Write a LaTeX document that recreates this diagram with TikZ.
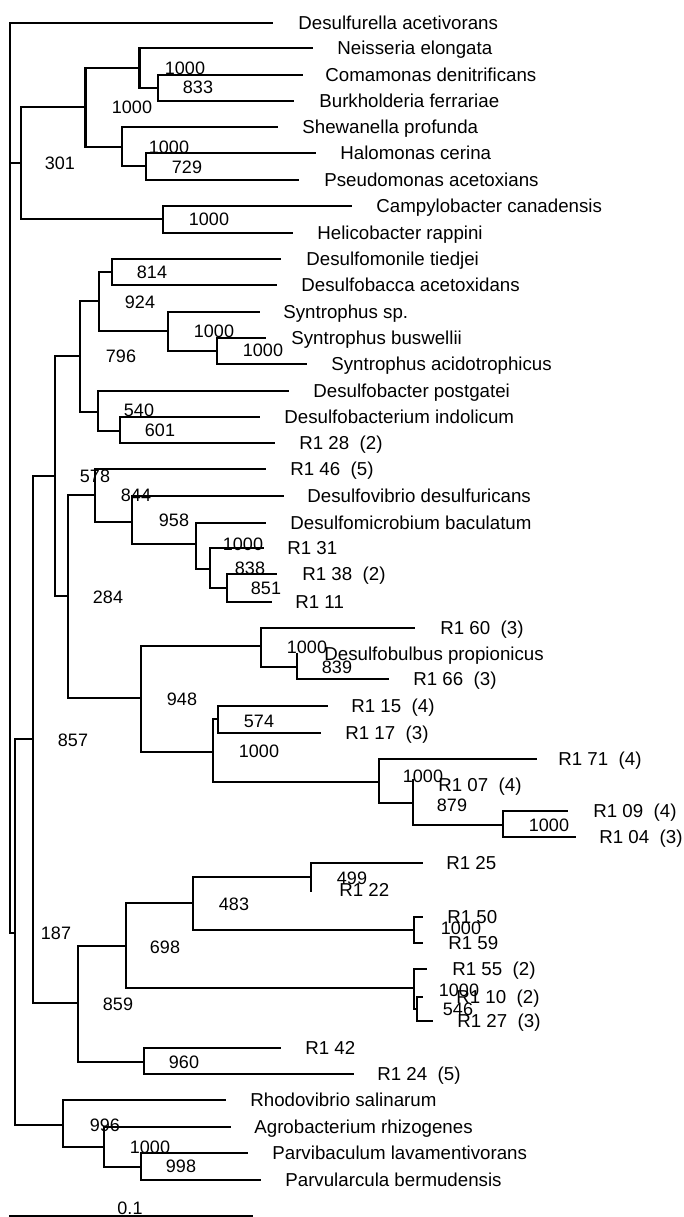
\documentclass[tikz,border=0pt]{standalone}
\usepackage{fontspec}
\setmainfont{Liberation Sans}
\begin{document}
\begin{tikzpicture}[x=0.5pt,y=-0.5pt,
  br/.style={line width=1.05pt,line cap=rect},
  thinbr/.style={line width=0.6pt,line cap=rect},
  leaflbl/.style={anchor=base west,inner sep=0pt,yshift=-3.2pt,font=\fontsize{9.35}{10}\selectfont},
  boot/.style={anchor=base,inner sep=0pt,yshift=-3.15pt,font=\fontsize{9}{10}\selectfont}]
\useasboundingbox (0,0) rectangle (684,1217);
% ---------- branches ----------
\draw[br] (272,22.7) -| (10,933) -- (15,933);
\draw[br] (10,163) -- (20.6,163);
\draw[br] (85.5,107) -| (20.6,219) -- (163,219);
\draw[br] (139.5,68) -| (85.5,147) -- (122,147);
\draw[br] (312,48) -| (139.5,88) -- (158,88);
\draw[br] (302,75) -| (158,101) -- (293,101);
\draw[br] (277,127) -| (122,166) -- (146,166);
\draw[br] (315,153) -| (146,180) -- (298,180);
\draw[br] (351,206) -| (163,233) -- (292,233);
% lower part
\draw[br] (33,739) -| (15,1125) -- (63,1125);
\draw[br] (55,476) -| (33,1003) -- (78,1003);
\draw[thinbr] (80,356) -| (55,596) -- (68,596);
\draw[br] (99,301) -| (80,412) -- (98,412);
\draw[br] (112,272) -| (99,331) -- (168,331);
\draw[br] (280,259) -| (112,285) -- (276,285);
\draw[br] (259,312) -| (168,351) -- (217,351);
\draw[br] (265,338) -| (217,364) -- (306,364);
\draw[br] (288,391) -| (98,431) -- (120,431);
\draw[br] (259,417) -| (120,443) -- (274,443);
\draw[thinbr] (95,495) -| (68,698) -- (141,698);
\draw[br] (265,469) -| (95,522) -- (132,522);
\draw[br] (283,496) -| (132,544) -- (196,544);
\draw[br] (265,523) -| (196,569) -- (210,569);
\draw[br] (263,548) -| (210,588) -- (227,588);
\draw[br] (276,574) -| (227,602) -- (271,602);
\draw[br] (261,646) -| (141,752) -- (213,752);
\draw[br] (414,628) -| (261,667) -- (297,667);
\draw[br] (297,654) -- (297,679) -- (388,679);
\draw[br] (218,719) -| (213,782) -- (379,782);
\draw[br] (327,706) -| (218,733);
\draw[thinbr] (218,733) -- (320,733);
\draw[br] (536,759) -| (379,803) -- (413,803);
\draw[br] (413,780) -- (413,825) -- (503,825);
\draw[br] (567,811) -| (503,837) -- (575,837);
\draw[br] (126,946) -| (78,1062) -- (144,1062);
\draw[br] (193,903) -| (126,988) -- (414,988);
\draw[br] (311,877) -| (193,930) -- (414,930);
\draw[br] (422,863) -- (311,863);
\draw[thinbr] (311,863) -- (311,891);
\draw[br] (422,917) -| (414,943) -- (422,943);
\draw[br] (426,969) -| (414,1009) -- (417,1009);
\draw[br] (422,997) -| (417,1021) -- (432,1021);
\draw[br] (280,1048) -| (144,1074) -- (353,1074);
\draw[br] (225,1100) -| (63,1147) -- (104,1147);
\draw[br] (230,1127) -| (104,1167) -- (141,1167);
\draw[br] (247,1153) -| (141,1180) -- (260,1180);
\draw[thinbr] (10,1216) -- (252,1216);
% ---------- leaf labels ----------
\node[leaflbl] (l1) at (298,22.7) {Desulfurella acetivorans};
\node[leaflbl] (l2) at (337,48) {Neisseria elongata};
\node[leaflbl] (l3) at (325,75) {Comamonas denitrificans};
\node[leaflbl] (l4) at (319,101) {Burkholderia ferrariae};
\node[leaflbl] (l5) at (302,127) {Shewanella profunda};
\node[leaflbl] (l6) at (340,153) {Halomonas cerina};
\node[leaflbl] (l7) at (324,180) {Pseudomonas acetoxians};
\node[leaflbl] (l8) at (376,206) {Campylobacter canadensis};
\node[leaflbl] (l9) at (317,233) {Helicobacter rappini};
\node[leaflbl] (l10) at (306,259) {Desulfomonile tiedjei};
\node[leaflbl] (l11) at (301,285) {Desulfobacca acetoxidans};
\node[leaflbl] (l12) at (283,312) {Syntrophus sp.};
\node[leaflbl] (l13) at (291,338) {Syntrophus buswellii};
\node[leaflbl] (l14) at (331,364) {Syntrophus acidotrophicus};
\node[leaflbl] (l15) at (313,391) {Desulfobacter postgatei};
\node[leaflbl] (l16) at (284,417) {Desulfobacterium indolicum};
\node[leaflbl] (l17) at (299,443) {R1 28\ \ (2)};
\node[leaflbl] (l18) at (290,469) {R1 46\ \ (5)};
\node[leaflbl] (l19) at (307,496) {Desulfovibrio desulfuricans};
\node[leaflbl] (l20) at (290,523) {Desulfomicrobium baculatum};
\node[leaflbl] (l21) at (287,548) {R1 31};
\node[leaflbl] (l22) at (302,574) {R1 38\ \ (2)};
\node[leaflbl] (l23) at (295,602) {R1 11};
\node[leaflbl] (l24) at (440,628) {R1 60\ \ (3)};
\node[leaflbl] (l25) at (324,654) {Desulfobulbus propionicus};
\node[leaflbl] (l26) at (413,679) {R1 66\ \ (3)};
\node[leaflbl] (l27) at (351,706) {R1 15\ \ (4)};
\node[leaflbl] (l28) at (345,733) {R1 17\ \ (3)};
\node[leaflbl] (l29) at (558,759) {R1 71\ \ (4)};
\node[leaflbl] (l30) at (438,785) {R1 07\ \ (4)};
\node[leaflbl] (l31) at (593,811) {R1 09\ \ (4)};
\node[leaflbl] (l32) at (599,837) {R1 04\ \ (3)};
\node[leaflbl] (l33) at (446,863) {R1 25};
\node[leaflbl] (l34) at (339,890) {R1 22};
\node[leaflbl] (l35) at (447,917) {R1 50};
\node[leaflbl] (l36) at (448,943) {R1 59};
\node[leaflbl] (l37) at (452,969) {R1 55\ \ (2)};
\node[leaflbl] (l38) at (456,997) {R1 10\ \ (2)};
\node[leaflbl] (l39) at (457,1021) {R1 27\ \ (3)};
\node[leaflbl] (l40) at (305,1048) {R1 42};
\node[leaflbl] (l41) at (377,1074) {R1 24\ \ (5)};
\node[leaflbl] (l42) at (250,1100) {Rhodovibrio salinarum};
\node[leaflbl] (l43) at (254,1127) {Agrobacterium rhizogenes};
\node[leaflbl] (l44) at (272,1153) {Parvibaculum lavamentivorans};
\node[leaflbl] (l45) at (285,1180) {Parvularcula bermudensis};
% ---------- bootstrap values ----------
\node[boot] (b1) at (60,163) {301};
\node[boot] (b2) at (132,107) {1000};
\node[boot] (b3) at (185,68) {1000};
\node[boot] (b4) at (198,87) {833};
\node[boot] (b5) at (169,147) {1000};
\node[boot] (b6) at (187,167) {729};
\node[boot] (b7) at (209,219) {1000};
\node[boot] (b8) at (152,272) {814};
\node[boot] (b9) at (140,302) {924};
\node[boot] (b10) at (214,331) {1000};
\node[boot] (b11) at (263,350) {1000};
\node[boot] (b12) at (121,356) {796};
\node[boot] (b13) at (139,410) {540};
\node[boot] (b14) at (160,430) {601};
\node[boot] (b15) at (95,476) {578};
\node[boot] (b16) at (136,495) {844};
\node[boot] (b17) at (174,520) {958};
\node[boot] (b18) at (243,544) {1000};
\node[boot] (b19) at (250,568) {838};
\node[boot] (b20) at (266,588) {851};
\node[boot] (b21) at (108,597) {284};
\node[boot] (b22) at (307,647) {1000};
\node[boot] (b23) at (337,667) {839};
\node[boot] (b24) at (182,699) {948};
\node[boot] (b25) at (259,721) {574};
\node[boot] (b26) at (259,751) {1000};
\node[boot] (b27) at (73,740) {857};
\node[boot] (b28) at (423,776) {1000};
\node[boot] (b29) at (452,805) {879};
\node[boot] (b30) at (549,825) {1000};
\node[boot] (b31) at (352,878) {499};
\node[boot] (b32) at (234,904) {483};
\node[boot] (b33) at (461,928) {1000};
\node[boot] (b34) at (165,947) {698};
\node[boot] (b35) at (56,933) {187};
\node[boot] (b36) at (459,990) {1000};
\node[boot] (b37) at (458,1009) {546};
\node[boot] (b38) at (118,1004) {859};
\node[boot] (b39) at (184,1062) {960};
\node[boot] (b40) at (105,1125) {996};
\node[boot] (b41) at (150,1147) {1000};
\node[boot] (b42) at (181,1166) {998};
\node[boot] (b43) at (130,1208) {0.1};
\end{tikzpicture}
\end{document}
